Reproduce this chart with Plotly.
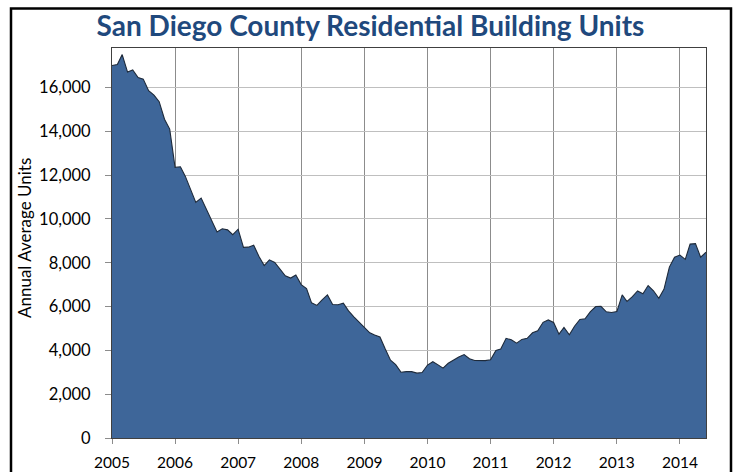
import pandas as pd
import plotly.graph_objects as go

title_text = "San Diego County Residential Building Units"
y_title = "Annual Average Units"
start_month = "2005-01-01"
units = [
    17000, 17050, 17500, 16700, 16800, 16450, 16380, 15850, 15650, 15350, 14550, 14100,
    12350, 12380, 11950, 11350, 10750, 10950, 10450, 9950, 9400, 9550, 9500, 9280,
    9530, 8700, 8710, 8800, 8300, 7870, 8130, 8010, 7700, 7400, 7300, 7440,
    7000, 6820, 6170, 6050, 6300, 6530, 6090, 6080, 6150, 5800, 5530, 5300,
    5050, 4800, 4700, 4610, 4070, 3550, 3350, 3000, 3030, 3030, 2960, 2990,
    3330, 3480, 3350, 3190, 3410, 3560, 3700, 3810, 3620, 3540, 3530, 3530,
    3570, 4000, 4060, 4550, 4480, 4330, 4500, 4550, 4800, 4890, 5280, 5390,
    5270, 4740, 5050, 4710, 5100, 5410, 5440, 5770, 6000, 6010, 5760, 5730,
    5770, 6530, 6230, 6450, 6710, 6580, 6960, 6720, 6380, 6800, 7800, 8250,
    8350, 8150, 8850, 8870, 8250, 8480,
]
months = pd.date_range(start_month, periods=len(units), freq="MS")

L, R, T, B = 112, 29, 48, 34
W, H = 735, 472
pw, ph = W - L - R, H - T - B

fig = go.Figure()
fig.add_trace(go.Scatter(
    x=months, y=units, mode="lines", fill="tozeroy",
    fillcolor="#3E6699", line=dict(color="#1E2A3A", width=1.1),
    hoverinfo="skip", showlegend=False,
))

font_fam = "Lato, Open Sans, sans-serif"
fig.update_layout(
    width=W, height=H,
    margin=dict(l=L, r=R, t=T, b=B, autoexpand=False),
    paper_bgcolor="white", plot_bgcolor="white",
    title=dict(text="<b>" + title_text + "</b>", x=370.5 / W, xref="container",
               xanchor="center", y=1 - 26 / H, yanchor="middle",
               font=dict(family=font_fam, size=28, color="#1F497D")),
    font=dict(family=font_fam, size=17, color="black"),
)
fig.update_xaxes(
    type="date", range=[months[0], months[-1]], automargin=False,
    dtick="M12", tick0=start_month, tickformat="%Y",
    showgrid=True, gridcolor="#8C8C8C", gridwidth=1,
    ticks="outside", ticklen=5, tickcolor="#8C8C8C",
    showline=True, linecolor="#404040", linewidth=1, mirror=True,
    ticklabelstandoff=5, tickfont=dict(size=15.5),
)
fig.update_yaxes(
    range=[0, 17800], dtick=2000, tick0=0, tickformat=",", automargin=False,
    showgrid=True, gridcolor="#BFBFBF", gridwidth=1,
    ticks="outside", ticklen=6, tickcolor="#8C8C8C",
    showline=True, linecolor="#404040", linewidth=1, mirror=True,
    ticklabelstandoff=11, tickfont=dict(size=16.5),
)
fig.add_annotation(
    text=y_title, textangle=-90, xref="paper", yref="paper",
    x=(24 - L) / pw, y=(H - B - 238) / ph, xanchor="center", yanchor="middle",
    showarrow=False, font=dict(family=font_fam, size=17, color="black"),
)
# outer chart frame
fig.add_shape(type="rect", xref="paper", yref="paper",
              x0=(11 - L) / pw, x1=(731 - L) / pw,
              y0=(H - B - 480) / ph, y1=(H - B - 8.5) / ph,
              line=dict(color="black", width=2.5), fillcolor="rgba(0,0,0,0)",
              layer="above")

fig.write_html(
    "out.html",
    config={"displayModeBar": False},
    post_script="document.body.style.margin='0';document.body.style.overflow='hidden';",
)
